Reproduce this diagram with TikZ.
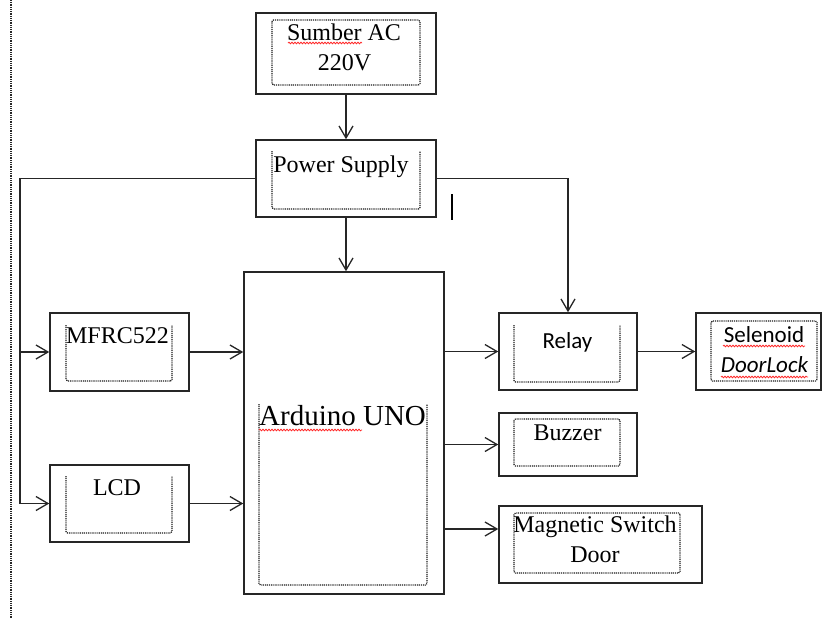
\documentclass[tikz,border=0pt]{standalone}
\usepackage{fontspec}
\setmainfont{Liberation Serif}
\newfontfamily\calibri{Carlito}
\usetikzlibrary{arrows.meta,decorations.pathmorphing}
\begin{document}
\begin{tikzpicture}[x=1pt,y=-1pt,
  box/.style={draw=black!85, line width=1.5pt, inner sep=0pt},
  inbox/.style={draw=black!90, line width=1.1pt, dash pattern=on 1pt off 0.9pt, rounded corners=1.5pt},
  arr/.style={draw=black!85, line width=1.5pt, -{Straight Barb[length=12pt,width=14pt,line width=1.3pt]}},
  wire/.style={draw=black!85, line width=1.5pt},
  tnr/.style={inner sep=0pt, anchor=base, font=\fontsize{24}{28}\selectfont},
  cal/.style={inner sep=0pt, anchor=base, font=\calibri\fontsize{23}{27}\selectfont},
  squig/.style={draw=red!85, line width=0.8pt, decorate, decoration={snake, segment length=3pt, amplitude=0.8pt}}]
\useasboundingbox (0,0) rectangle (823,619);

% page margin line
\draw[draw=black!85, line width=1.1pt, dash pattern=on 0.9pt off 0.9pt] (11,0) -- (11,619);

% outer boxes
\node[box, minimum width=180pt, minimum height=81pt] (sumber) at (346,53.5) {};
\node[box, minimum width=180pt, minimum height=77pt] (power) at (346,178.5) {};
\node[box, minimum width=139pt, minimum height=78pt] (mfrc) at (119.5,352) {};
\node[box, minimum width=139pt, minimum height=77pt] (lcd) at (119.5,503.5) {};
\node[box, minimum width=200pt, minimum height=322pt] (arduino) at (344,433) {};
\node[box, minimum width=138pt, minimum height=77pt] (relay) at (568,351.5) {};
\node[box, minimum width=125pt, minimum height=77pt] (selenoid) at (758.5,351.5) {};
\node[box, minimum width=138pt, minimum height=63pt] (buzzer) at (568,444.5) {};
\node[box, minimum width=203pt, minimum height=77pt] (magnetic) at (600.5,544.5) {};

% inner dotted text frames
\draw[inbox] (272,20) rectangle (420,85);
\draw[inbox] (272,151) -- (272,209) -- (420,209) -- (420,151);
\draw[inbox] (66,325) -- (66,381) -- (172,381) -- (172,325);
\draw[inbox] (66,476) -- (66,533) -- (172,533) -- (172,476);
\draw[inbox] (259,404) -- (259,585) -- (427,585) -- (427,404);
\draw[inbox] (514,325) -- (514,382) -- (620,382) -- (620,325);
\draw[inbox] (711,321) rectangle (817,381);
\draw[inbox] (514,419) rectangle (620,466);
\draw[inbox] (514,513) rectangle (680,573);

% texts
\node[tnr] (t1) at (344,40) {Sumber AC};
\node[tnr] (t2) at (344.5,70) {220V};
\node[tnr] (t3) at (341,172) {Power Supply};
\node[tnr] (t4) at (117.5,343) {MFRC522};
\node[tnr] (t5) at (117,495) {LCD};
\node[inner sep=0pt, anchor=base west, font=\fontsize{29}{33}\selectfont] (t6) at (259,425) {Arduino UNO};
\node[cal] (t7) at (567.5,348) {Relay};
\node[cal] (t8) at (764,342) {Selenoid};
\node[cal, font=\calibri\itshape\fontsize{23}{27}\selectfont] (t9) at (764.5,372) {DoorLock};
\node[tnr] (t10) at (567.5,440) {Buzzer};
\node[tnr] (t11) at (595,532) {Magnetic Switch};
\node[tnr] (t12) at (595,562) {Door};

% spell-check squiggles
\draw[squig] (288,43) -- (362,43);
\draw[squig] (259,430) -- (362,430);
\draw[squig] (723,346) -- (805,346);
\draw[squig] (721,377) -- (808,377);

% stray cursor bar
\draw[line width=2.4pt, black] (452,194) -- (452,220);

% connectors
\draw[arr] (sumber.south) -- (power.north);
\draw[arr] (power.south) -- (power.south |- arduino.north);
\coordinate (lt) at (20,178.5);
\draw[arr] (power.west) -- (lt) |- (lcd.west);
\draw[arr] (lt |- mfrc.west) -- (mfrc.west);
\draw[arr] (mfrc.east) -- (mfrc.east -| arduino.west);
\draw[arr] (lcd.east) -- (lcd.east -| arduino.west);
\draw[arr] (power.east) -| (relay.north);
\draw[arr] (arduino.east |- relay.west) -- (relay.west);
\draw[arr] (relay.east) -- (selenoid.west);
\draw[arr] (arduino.east |- buzzer.west) -- (buzzer.west);
\coordinate (mw) at ([yshift=15.5pt]magnetic.west);
\draw[arr] (arduino.east |- mw) -- (mw);
\end{tikzpicture}
\end{document}
